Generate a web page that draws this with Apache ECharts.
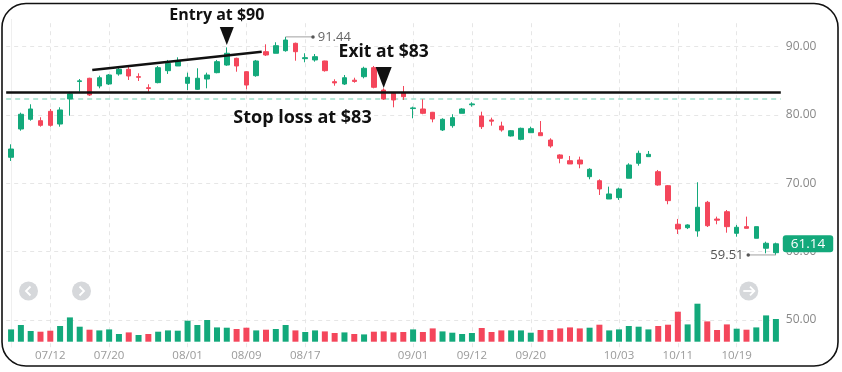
<!DOCTYPE html>
<html><head><meta charset="utf-8">
<script src="https://cdn.jsdelivr.net/npm/echarts@6/dist/echarts.min.js"></script>
<style>html,body{margin:0;padding:0;background:#fff}#c{width:842px;height:372px}</style>
</head><body><div id="c"></div>
<script>
const dates = ['07/06','07/07','07/08','07/11','07/12','07/13','07/14','07/15','07/18','07/19','07/20','07/21','07/22','07/25','07/26','07/27','07/28','07/29',
'08/01','08/02','08/03','08/04','08/05','08/08','08/09','08/10','08/11','08/12','08/15','08/16','08/17','08/18','08/19','08/22','08/23','08/24','08/25','08/26','08/29','08/30','08/31',
'09/01','09/02','09/06','09/07','09/08','09/09','09/12','09/13','09/14','09/15','09/16','09/19','09/20','09/21','09/22','09/23','09/26','09/27','09/28','09/29','09/30',
'10/03','10/04','10/05','10/06','10/07','10/10','10/11','10/12','10/13','10/14','10/17','10/18','10/19','10/20','10/21','10/24','10/25'];
const openP  = [73.81,77.95,79.37,79.17,80.54,78.68,82.35,84.90,85.38,84.25,84.54,86.01,86.69,85.62,84.00,84.74,86.49,87.18,84.64,83.76,85.27,86.20,87.32,88.30,86.34,85.76,89.27,89.04,89.42,90.50,88.25,88.06,87.91,84.88,84.54,85.10,85.61,86.93,83.66,83.18,83.27,80.94,80.88,80.40,77.81,78.44,80.25,81.50,79.86,79.27,78.39,76.93,76.44,77.41,77.41,76.34,74.15,73.31,73.41,70.97,70.38,67.70,67.90,70.74,72.93,73.90,71.70,69.65,64.00,63.50,63.02,67.22,64.77,65.84,62.68,63.65,61.95,60.49,59.84];
const closeP = [75.02,80.11,80.88,78.49,78.49,80.74,83.10,85.00,82.93,85.46,85.86,86.69,85.71,85.52,83.88,86.93,87.57,87.91,85.52,85.38,85.86,87.81,89.04,87.18,84.39,87.91,88.79,90.15,90.98,89.27,88.40,88.54,86.49,84.70,85.46,84.92,86.84,84.06,82.34,82.20,82.68,81.04,80.25,79.42,79.37,79.61,80.88,81.62,78.29,79.10,77.81,77.70,78.05,78.00,76.97,75.46,73.66,72.83,72.83,72.05,69.17,68.44,69.17,72.68,74.39,74.24,69.75,67.46,63.31,63.90,66.49,63.79,64.60,63.65,63.56,63.41,63.65,61.22,61.14];
const lowP   = [73.27,77.70,79.17,78.29,78.29,78.29,79.90,83.41,82.78,83.91,84.40,85.76,85.13,84.98,83.41,84.64,86.01,87.18,83.66,83.66,83.91,86.11,87.20,86.34,83.76,85.60,88.64,89.04,89.27,87.95,87.72,87.81,86.35,84.29,84.40,84.73,85.37,83.91,82.20,81.13,82.20,79.52,80.11,78.93,77.66,78.14,80.25,81.22,77.95,78.44,77.56,76.84,76.30,77.41,76.97,75.21,72.93,72.83,72.20,70.59,68.29,67.70,67.56,70.74,72.58,73.90,69.65,66.93,62.58,63.30,62.18,63.60,64.00,62.77,62.18,63.41,61.95,59.75,59.51];
const highP  = [75.71,80.34,81.57,79.67,80.88,81.13,83.40,85.27,85.45,85.76,86.00,86.88,87.07,86.11,84.50,87.18,88.06,88.45,86.20,86.84,86.20,88.06,89.90,88.40,86.40,88.06,90.35,90.65,91.44,90.60,89.04,88.93,87.95,85.23,85.86,85.46,87.07,87.18,83.91,83.20,84.25,81.22,82.30,80.45,79.52,80.11,81.00,81.86,80.49,79.61,79.02,77.80,78.15,78.29,79.12,76.59,74.25,74.00,73.90,72.20,70.59,69.51,69.36,72.93,74.78,74.73,71.95,69.75,64.78,64.00,70.15,67.42,65.12,66.09,63.90,65.12,63.65,61.45,61.31];
const volume = [12.3,16.7,10.7,10,11,15.7,24.3,15,12,11.3,12.3,7.7,9.3,6.7,7.7,10,11.3,11,21,16.7,21.7,14.3,14,12.7,14,11.3,12,12.7,16.7,11.3,9.7,11.3,10.3,8.7,9.3,7.7,7.3,10,10.3,9.3,9.7,12.3,9.7,13.3,10.3,9,7.7,8.7,13.7,9.7,11.3,11.3,11.3,9,11.7,11.7,13.3,14.3,13.3,14,17,11.3,12.3,15.7,15,12.3,15.7,17,30,17.3,38,20.3,11.7,17.3,13,12,14.3,26.3,22.7];
const volumeUp = [1,1,1,0,0,1,1,1,0,1,1,1,0,1,0,1,1,1,1,1,1,1,1,0,0,1,0,1,1,0,1,1,0,0,1,0,1,0,0,0,0,1,0,0,1,1,1,1,0,0,0,1,1,1,0,0,0,0,0,1,0,1,1,1,1,1,0,0,0,1,1,0,0,0,1,0,1,1,1];
const tickLabels = ['07/12','07/20','08/01','08/09','08/17','09/01','09/12','09/20','10/03','10/11','10/19'];
const priceTicks = [50,60,70,80,90];
const stopLoss = 83.27;
const prevClose = 82.35;
const entryTip = 90.25;
const exitTip = 83.96;
const trendLine = [[8.28,86.59],[25.56,89.27]];
const maxMark = {idx:28, value:91.44, labelIdx:30.79};
const minMark = {idx:78, value:59.51, labelIdx:75.18};
const lastPrice = 61.14;

const UP = '#13a97b', DOWN = '#f4465b';
const candles = dates.map((d,i)=>[openP[i],closeP[i],lowP[i],highP[i]]);
const gridLeft = 6.17, gridRight = 61.2;
const gridDash = {color:'#e6e6e6', type:[4,4], width:1};
const arrowPath = 'path://M0,0L14,0L7,18Z';

const chart = echarts.init(document.getElementById('c'), null, {renderer:'canvas'});
chart.setOption({
  animation:false,
  backgroundColor:'#fff',
  textStyle:{fontFamily:'Open Sans'},
  grid:[
    {left:gridLeft, right:gridRight, top:19.4, height:327.8},
    {left:gridLeft, right:gridRight, top:301.7, height:40}
  ],
  xAxis:[
    {type:'category', gridIndex:0, data:dates, axisLine:{show:false}, axisTick:{show:false}, axisLabel:{show:false}, splitLine:{show:false}},
    {type:'category', gridIndex:1, data:dates, axisLine:{show:false}, axisTick:{show:false}, splitLine:{show:false},
      axisLabel:{interval:(i,v)=>tickLabels.includes(v), color:'#9a9a9a', fontSize:11.5, margin:8}},
    {type:'value', gridIndex:0, min:-0.5, max:dates.length-0.5, show:false}
  ],
  yAxis:[
    {type:'value', gridIndex:0, position:'right', min:46, max:94,
      axisLine:{show:true, lineStyle:{color:'#efefef'}}, axisTick:{show:false}, splitLine:{show:false},
      axisLabel:{customValues:priceTicks, formatter:v=>v.toFixed(2), color:'#888', fontSize:12, margin:5}},
    {type:'value', gridIndex:1, min:0, max:40, show:false}
  ],
  series:[
    {type:'line', xAxisIndex:2, yAxisIndex:0, data:[[0,46]], symbol:'none', lineStyle:{opacity:0}, z:0, silent:true,
      markLine:{z:0, silent:true, symbol:['none','none'], label:{show:false}, lineStyle:gridDash,
        data:[...priceTicks.map(v=>({yAxis:v})), ...tickLabels.map(t=>({xAxis:dates.indexOf(t)})),
          {yAxis:prevClose, lineStyle:{color:'#9fe0cb', type:[5,4], width:1.5}}]}},
    {type:'candlestick', xAxisIndex:0, yAxisIndex:0, data:candles, barWidth:5, z:2,
      itemStyle:{color:UP, color0:DOWN, borderColor:UP, borderColor0:DOWN, borderWidth:1},
      markLine:{z:6, silent:true, symbol:['none','none'], lineStyle:{color:'rgba(0,0,0,0)', width:1},
        label:{show:true, position:'end', distance:2, formatter:lastPrice.toFixed(2), color:'#fff', backgroundColor:UP,
          padding:[2,8,1,8], borderRadius:3, fontSize:13.5},
        data:[{yAxis:lastPrice}]}},
    {type:'bar', xAxisIndex:1, yAxisIndex:1, barWidth:6, z:2,
      data:volume.map((v,i)=>({value:v, itemStyle:{color: volumeUp[i]?UP:DOWN}}))},
    {type:'line', xAxisIndex:2, yAxisIndex:0, data:trendLine, symbol:'none', z:5, silent:true,
      lineStyle:{color:'#111', width:2.5},
      markLine:{z:5, silent:true, symbol:['none','none'], label:{show:false}, lineStyle:{color:'#111', width:2.5, type:'solid'},
        data:[{yAxis:stopLoss}]},
      markPoint:{z:6, silent:true, data:[
        {coord:[22,entryTip], symbol:arrowPath, symbolSize:[14,18], symbolOffset:[0,-9], itemStyle:{color:'#111'},
          label:{show:true, position:'top', distance:4, offset:[-10,0], formatter:'Entry at $90', fontSize:16, fontWeight:'bold', color:'#111'}},
        {coord:[38,exitTip], symbol:arrowPath, symbolSize:[16,21], symbolOffset:[0,-10.5], itemStyle:{color:'#111'},
          label:{show:true, position:'top', distance:6, formatter:'Exit at $83', fontSize:17.5, fontWeight:'bold', color:'#111'}},
        {coord:[29.72,79.56], symbol:'rect', symbolSize:1, itemStyle:{color:'rgba(0,0,0,0)'},
          label:{show:true, position:'inside', formatter:'Stop loss at $83', fontSize:18, fontWeight:'bold', color:'#111'}}
      ]}},
    {type:'line', xAxisIndex:2, yAxisIndex:0, z:4, silent:true, showSymbol:true, lineStyle:{color:'#a0a0a0', width:1},
      data:[{value:[maxMark.idx,maxMark.value], symbol:'none'},
        {value:[maxMark.labelIdx,maxMark.value], symbol:'circle', symbolSize:3.5, itemStyle:{color:'#555'},
          label:{show:true, position:'right', distance:3, formatter:maxMark.value.toFixed(2), color:'#666', fontSize:13}}]},
    {type:'line', xAxisIndex:2, yAxisIndex:0, z:4, silent:true, showSymbol:true, lineStyle:{color:'#a0a0a0', width:1},
      data:[{value:[minMark.idx,minMark.value], symbol:'none'},
        {value:[minMark.labelIdx,minMark.value], symbol:'circle', symbolSize:3.5, itemStyle:{color:'#555'},
          label:{show:true, position:'left', distance:3, formatter:minMark.value.toFixed(2), color:'#555', fontSize:13}}]}
  ],
  graphic:[
    {type:'rect', shape:{x:2, y:3.5, width:836, height:362.5, r:24}, style:{fill:'none', stroke:'#111', lineWidth:1.6}, z:100, silent:true},
    {type:'circle', shape:{cx:28.5, cy:291, r:9.5}, style:{fill:'#d6d8db'}, silent:true},
    {type:'polyline', shape:{points:[[30.5,286.5],[26,291],[30.5,295.5]]}, style:{stroke:'#fff', lineWidth:1.8, fill:'none'}, silent:true},
    {type:'circle', shape:{cx:81.5, cy:291, r:9.5}, style:{fill:'#d6d8db'}, silent:true},
    {type:'polyline', shape:{points:[[79.5,286.5],[84,291],[79.5,295.5]]}, style:{stroke:'#fff', lineWidth:1.8, fill:'none'}, silent:true},
    {type:'circle', shape:{cx:748.8, cy:291, r:9.5}, style:{fill:'#d6d8db'}, silent:true},
    {type:'polyline', shape:{points:[[743.3,291],[754.3,291]]}, style:{stroke:'#fff', lineWidth:1.8, fill:'none'}, silent:true},
    {type:'polyline', shape:{points:[[750,286.7],[754.3,291],[750,295.3]]}, style:{stroke:'#fff', lineWidth:1.8, fill:'none'}, silent:true}
  ]
});
</script></body></html>
